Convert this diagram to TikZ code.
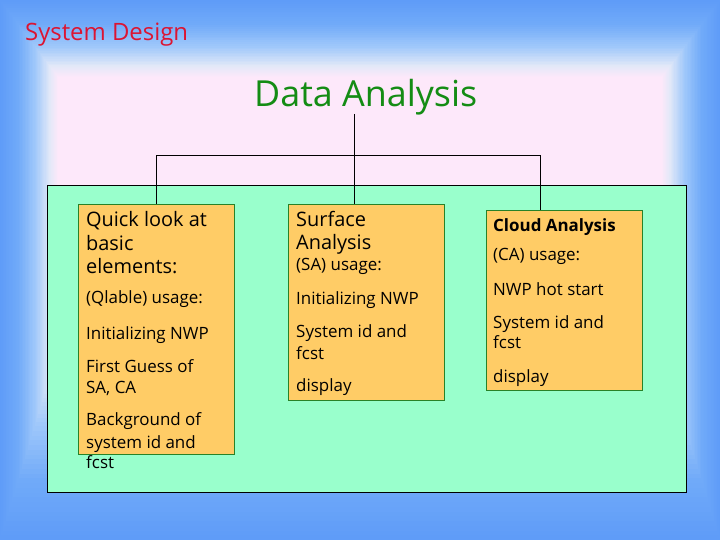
\documentclass[tikz,border=0pt]{standalone}
\usepackage{fontspec}
\setmainfont{Open Sans}
\definecolor{bgblue}{RGB}{95,156,248}
\definecolor{bgb2}{RGB}{112,170,249}
\definecolor{bgb3}{RGB}{160,200,250}
\definecolor{bgb4}{RGB}{225,232,248}
\definecolor{bgpink}{RGB}{253,232,250}
\definecolor{panel}{RGB}{153,255,204}
\definecolor{boxfill}{RGB}{255,204,102}
\definecolor{boxline}{RGB}{40,130,40}
\definecolor{titlered}{RGB}{220,20,50}
\definecolor{titlegreen}{RGB}{20,140,20}
\tikzset{
  orangebox/.style={draw=boxline, fill=boxfill, line width=0.8bp, inner sep=0, rectangle},
  big/.style={anchor=base west, inner sep=0, font=\fontsize{20}{20}\selectfont},
  small/.style={anchor=base west, inner sep=0, font=\fontsize{17}{17}\selectfont},
  conn/.style={draw=black, line width=1bp},
}
% one segment of the rectangular background gradient
\newcommand\bgseg[5]{%
  \foreach \j in {0,...,11} {%
    \pgfmathsetmacro\f{#1+(#2-#1)*\j/12}%
    \pgfmathsetmacro\p{100*\j/12}%
    \fill[#4!\p!#3] (58*\f, 77*\f) rectangle (720-58*\f, 540-#5*\f);
  }}
\begin{document}
\begin{tikzpicture}[x=1bp,y=-1bp]
\useasboundingbox (0,0) rectangle (720,540);
% background gradient
\bgseg{0}{0.3}{bgblue}{bgb2}{190}
\bgseg{0.3}{0.6}{bgb2}{bgb3}{190}
\bgseg{0.6}{0.85}{bgb3}{bgb4}{190}
\bgseg{0.85}{1}{bgb4}{bgpink}{190}
\fill[bgpink] (58,77) rectangle (662,350);
% titles
\node[anchor=base west, inner sep=0, text=titlered, font=\fontsize{24}{24}\selectfont] (sys) at (25,41) {System Design};
\node[anchor=base west, inner sep=0, text=titlegreen, font=\fontsize{36}{36}\selectfont] (da) at (254,107) {Data Analysis};
% panel
\node[draw=black, fill=panel, line width=1bp, inner sep=0, minimum width=638bp, minimum height=306bp] (panel) at (367,339) {};
% boxes
\node[orangebox, minimum width=156bp, minimum height=250bp] (b1) at (156,329) {};
\node[orangebox, minimum width=156bp, minimum height=196bp] (b2) at (366,302) {};
\node[orangebox, minimum width=156bp, minimum height=180bp] (b3) at (564,300) {};
% connectors
\coordinate (t) at (354,114);
\coordinate (j1) at (156,156);
\coordinate (j3) at (540,156);
\draw[conn] (t) -- (t |- b2.north);
\draw[conn] (b1.north) -- (j1) -- (j3) -- (j3 |- b3.north);
% box 1 text
\node[big] (a1) at (86,227) {Quick look at};
\node[big] (a2) at (86,251) {basic};
\node[big] (a3) at (86,274) {elements:};
\node[small] (a4) at (86,303) {(Qlable) usage:};
\node[small] (a5) at (86,339) {Initializing NWP};
\node[small] (a6) at (86,372) {First Guess of};
\node[small] (a7) at (86,393) {SA, CA};
\node[small] (a8) at (86,425) {Background of};
\node[small] (a9) at (86,448) {system id and};
\node[small] (a10) at (86,468) {fcst};
% box 2 text
\node[big] (s1) at (296,227) {Surface};
\node[big] (s2) at (296,250) {Analysis};
\node[small] (s3) at (296,271) {(SA) usage:};
\node[small] (s4) at (296,304) {Initializing NWP};
\node[small] (s5) at (296,337) {System id and};
\node[small] (s6) at (296,359) {fcst};
\node[small] (s7) at (296,391) {display};
% box 3 text
\node[small, font=\fontsize{17}{17}\selectfont\bfseries] (c1) at (493,232) {Cloud Analysis};
\node[small] (c2) at (493,261) {(CA) usage:};
\node[small] (c3) at (493,295) {NWP hot start};
\node[small] (c4) at (493,328) {System id and};
\node[small] (c5) at (493,348) {fcst};
\node[small] (c6) at (493,382) {display};
\end{tikzpicture}
\end{document}
